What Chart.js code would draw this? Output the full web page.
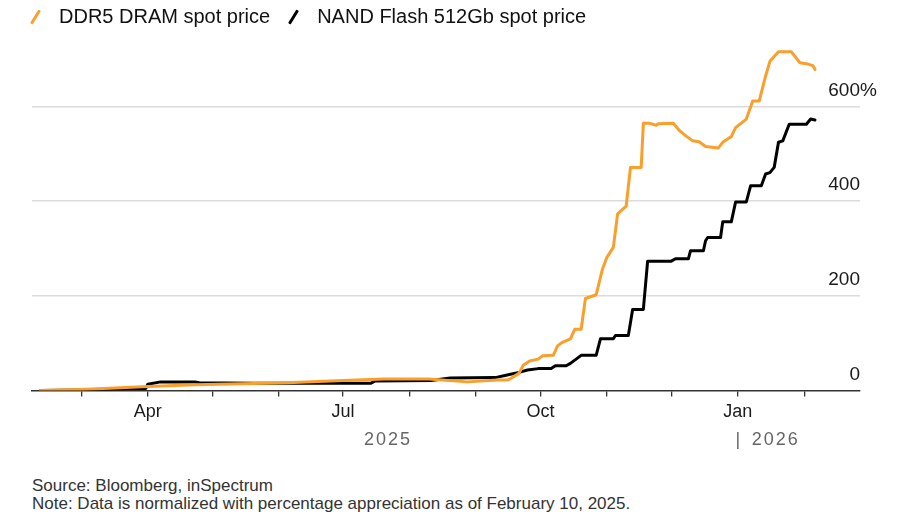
<!DOCTYPE html>
<html>
<head>
<meta charset="utf-8">
<script src="https://cdn.jsdelivr.net/npm/chart.js@4/dist/chart.umd.min.js"></script>
<style>
    body { margin: 0; width: 900px; height: 531px; background: #fff; position: relative; overflow: hidden;
           font-family: "Liberation Sans", Arial, sans-serif; }
    #legend { position: absolute; left: 30px; top: 5px; display: flex; align-items: center;
              font-size: 20px; line-height: 23px; color: #111; }
    .item { display: flex; align-items: center; margin-right: 18px; }
    .slash { width: 3px; height: 16px; transform: rotate(32deg); margin: 0 22px 0 4px; border-radius: 1px; }
    #wrap { position: absolute; left: 0; top: 0; width: 900px; height: 460px; }
    #foot { position: absolute; left: 32px; top: 477px; font-size: 17px; line-height: 18px; color: #333; }
</style>
</head>
<body>
<div id="wrap"><canvas id="chart" width="900" height="460"></canvas></div>
<div id="legend"></div>
<div id="foot">
    Source: Bloomberg, inSpectrum<br>
    Note: Data is normalized with percentage appreciation as of February 10, 2025.
</div>
<script>
// DDR5 DRAM spot price, % change since Feb 10 2025
const ddr5Dates = ["2025-02-10", "2025-03-01", "2025-04-01", "2025-04-23", "2025-05-15", "2025-06-05",
    "2025-07-01", "2025-07-20", "2025-08-10", "2025-08-28", "2025-09-11", "2025-09-16", "2025-09-21",
    "2025-09-23", "2025-09-26", "2025-09-30", "2025-10-02", "2025-10-07", "2025-10-09", "2025-10-11",
    "2025-10-15", "2025-10-17", "2025-10-20", "2025-10-22", "2025-10-27", "2025-10-30", "2025-11-01",
    "2025-11-04", "2025-11-06", "2025-11-10", "2025-11-12", "2025-11-17", "2025-11-18", "2025-11-21",
    "2025-11-24", "2025-11-25", "2025-12-02", "2025-12-05", "2025-12-08", "2025-12-11", "2025-12-14",
    "2025-12-17", "2025-12-23", "2025-12-25", "2025-12-29", "2025-12-31", "2026-01-05", "2026-01-08",
    "2026-01-11", "2026-01-14", "2026-01-16", "2026-01-20", "2026-01-26", "2026-01-30", "2026-02-02",
    "2026-02-05", "2026-02-06"]
const ddr5Values = [0, 2, 8, 12, 14, 16,
    21, 24, 24, 18, 22, 22, 36,
    53, 62, 66, 73, 74, 94, 101,
    109, 129, 129, 194, 202, 257, 281,
    302, 373, 389, 471, 471, 564, 564,
    560, 563, 564, 548, 537, 527, 525,
    515, 512, 524, 536, 555, 573, 611,
    611, 664, 695, 715, 715, 692, 690,
    686, 678]

// NAND Flash 512Gb spot price
const nandDates = ["2025-02-10", "2025-03-01", "2025-03-31", "2025-04-01", "2025-04-07", "2025-04-23",
    "2025-04-25", "2025-05-20", "2025-07-14", "2025-07-16", "2025-08-11", "2025-08-20", "2025-09-10",
    "2025-09-15", "2025-09-21", "2025-09-25", "2025-09-30", "2025-10-06", "2025-10-08", "2025-10-13",
    "2025-10-15", "2025-10-20", "2025-10-27", "2025-10-29", "2025-11-04", "2025-11-05", "2025-11-11",
    "2025-11-13", "2025-11-18", "2025-11-20", "2025-12-01", "2025-12-03", "2025-12-09", "2025-12-10",
    "2025-12-16", "2025-12-17", "2025-12-18", "2025-12-24", "2025-12-25", "2025-12-29", "2025-12-31",
    "2026-01-05", "2026-01-07", "2026-01-12", "2026-01-14", "2026-01-16", "2026-01-18", "2026-01-20",
    "2026-01-22", "2026-01-25", "2026-02-02", "2026-02-04", "2026-02-06"]
const nandValues = [0, 1, 4, 13, 18, 18,
    16, 15, 15, 20, 21, 26, 27,
    32, 38, 43, 46, 46, 52, 52,
    57, 74, 74, 109, 109, 116, 116,
    171, 171, 273, 273, 278, 278, 295,
    295, 316, 323, 323, 356, 356, 398,
    398, 432, 432, 457, 460, 471, 524,
    527, 562, 562, 573, 571]

const seriesNames = ["DDR5 DRAM spot price", "NAND Flash 512Gb spot price"]
const seriesColors = ["#fa9f2c", "#000000"]

const monthTicks = ["2025-03-01", "2025-04-01", "2025-05-01", "2025-06-01", "2025-07-01", "2025-08-01",
    "2025-09-01", "2025-10-01", "2025-11-01", "2025-12-01", "2026-01-01", "2026-02-01"]
const monthLabels = ["", "Apr", "", "", "Jul", "", "", "Oct", "", "", "Jan", ""]
const yearLabels = ["2025", "2026"]
const yearLabelDates = ["2025-07-22", "2026-01-01"]
const yTicks = [0, 200, 400, 600]
const xRange = ["2025-02-06", "2026-02-27"]
const yRange = [0, 740]

const FONT = "'Liberation Sans', Arial, sans-serif"

function dayNum(s) {
    let p = s.split("-").map(Number)
    return (Date.UTC(p[0], p[1] - 1, p[2]) - Date.UTC(2025, 0, 1)) / 86400000
}

function toPoints(dates, values) {
    return dates.map((d, i) => ({x: dayNum(d), y: values[i]}))
}

function buildLegend() {
    let legend = document.getElementById("legend")
    seriesNames.forEach((name, i) => {
        let item = document.createElement("div")
        item.className = "item"
        let slash = document.createElement("span")
        slash.className = "slash"
        slash.style.background = seriesColors[i]
        let text = document.createElement("span")
        text.innerText = name
        item.appendChild(slash)
        item.appendChild(text)
        legend.appendChild(item)
    })
}

// "%" after the top y label, and the year row under the x axis
const extraLabels = {
    id: "extraLabels",
    afterDraw(chart) {
        let ctx = chart.ctx
        let x = chart.scales.x
        let y = chart.scales.y
        ctx.save()
        ctx.fillStyle = "#1a1a1a"
        ctx.font = "19px " + FONT
        ctx.textAlign = "left"
        ctx.textBaseline = "middle"
        let top = yTicks[yTicks.length - 1]
        ctx.fillText("%", y.left, y.getPixelForValue(top) - 16)

        ctx.fillStyle = "#666"
        ctx.font = "18px " + FONT
        ctx.letterSpacing = "2px"
        let rowY = x.bottom + 12
        ctx.textAlign = "center"
        ctx.fillText(yearLabels[0], x.getPixelForValue(dayNum(yearLabelDates[0])), rowY)
        let px = x.getPixelForValue(dayNum(yearLabelDates[1]))
        ctx.letterSpacing = "0px"
        ctx.fillText("|", px, rowY)
        ctx.letterSpacing = "2px"
        ctx.textAlign = "left"
        ctx.fillText(yearLabels[1], px + 14, rowY)
        ctx.restore()
    }
}

function drawChart() {
    buildLegend()
    Chart.defaults.font.family = FONT

    new Chart(document.getElementById("chart").getContext("2d"), {
        type: "line",
        data: {
            datasets: [
                {label: seriesNames[0], data: toPoints(ddr5Dates, ddr5Values)},
                {label: seriesNames[1], data: toPoints(nandDates, nandValues)}
            ].map((ds, i) => Object.assign(ds, {
                borderColor: seriesColors[i],
                borderWidth: 3,
                pointRadius: 0,
                tension: 0,
                borderJoinStyle: "round",
                borderCapStyle: "round"
            }))
        },
        options: {
            responsive: false,
            animation: false,
            layout: {padding: {top: 40, left: 32, right: 40, bottom: 32}},
            plugins: {legend: {display: false}, tooltip: {enabled: false}},
            scales: {
                x: {
                    type: "linear",
                    min: dayNum(xRange[0]),
                    max: dayNum(xRange[1]),
                    afterBuildTicks: s => { s.ticks = monthTicks.map(d => ({value: dayNum(d)})) },
                    ticks: {
                        autoSkip: false, maxRotation: 0, padding: 5, color: "#1a1a1a",
                        font: {size: 18},
                        callback: (v, i) => monthLabels[i]
                    },
                    grid: {drawOnChartArea: false, drawTicks: true, tickLength: 6, color: "#333", lineWidth: 1.3},
                    border: {display: true, color: "#333", width: 1.5}
                },
                y: {
                    position: "right",
                    min: yRange[0],
                    max: yRange[1],
                    afterBuildTicks: s => { s.ticks = yTicks.map(v => ({value: v})) },
                    ticks: {
                        mirror: true, padding: 0, labelOffset: -16, color: "#1a1a1a",
                        font: {size: 19},
                        callback: v => String(v)
                    },
                    grid: {
                        drawTicks: false, lineWidth: 1.5,
                        color: c => c.tick && c.tick.value === 0 ? "rgba(0,0,0,0)" : "#dcdcdc"
                    },
                    border: {display: false}
                }
            }
        },
        plugins: [extraLabels]
    })
}

drawChart()
</script>
</body>
</html>
